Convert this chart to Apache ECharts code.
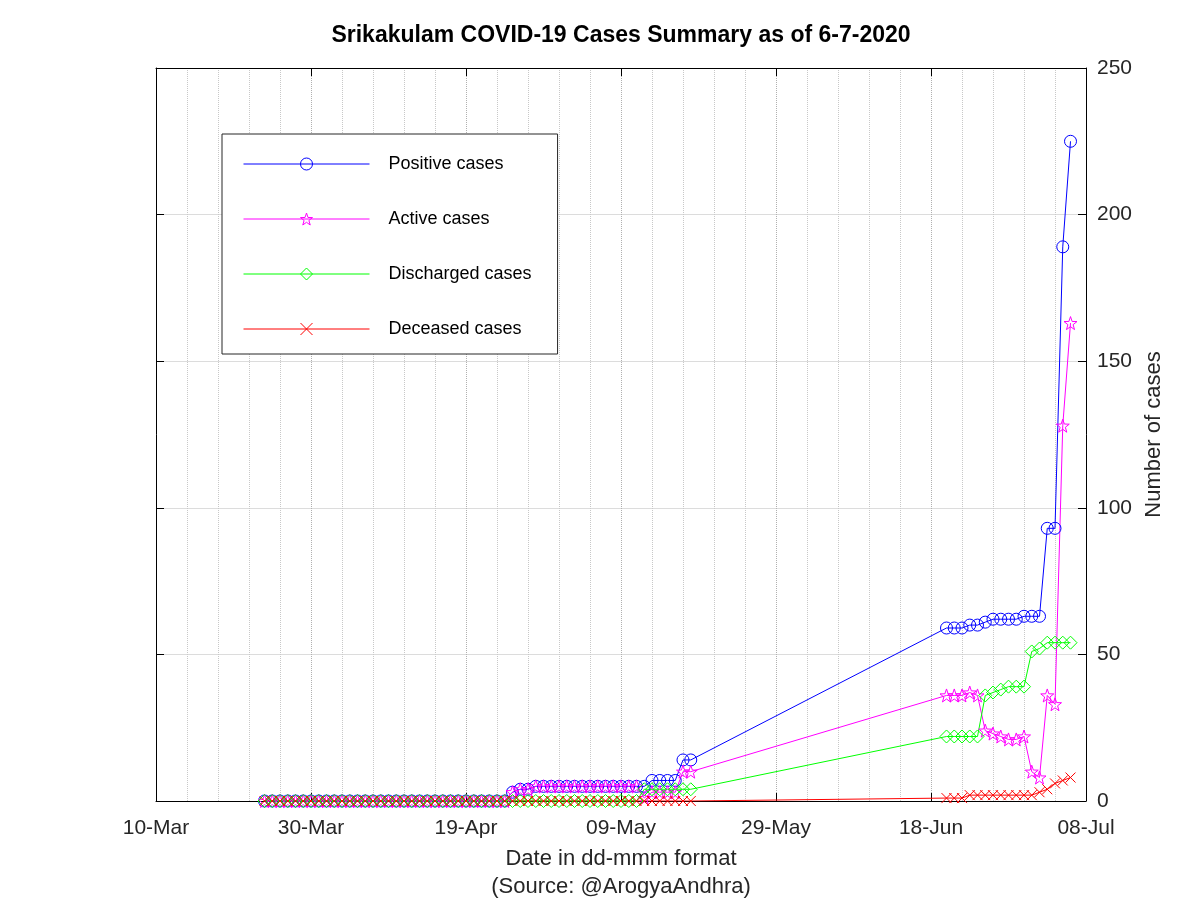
<!DOCTYPE html>
<html><head><meta charset="utf-8">
<script src="https://cdn.jsdelivr.net/npm/echarts@6/dist/echarts.min.js"></script>
<style>html,body{margin:0;padding:0;background:#fff}#c{width:1200px;height:900px}</style>
</head><body><div id="c"></div>
<script>
const titleText = 'Srikakulam COVID-19 Cases Summary as of 6-7-2020';
const dates = [
'2020-03-24','2020-03-25','2020-03-26','2020-03-27','2020-03-28','2020-03-29','2020-03-30','2020-03-31',
'2020-04-01','2020-04-02','2020-04-03','2020-04-04','2020-04-05','2020-04-06','2020-04-07','2020-04-08','2020-04-09','2020-04-10',
'2020-04-11','2020-04-12','2020-04-13','2020-04-14','2020-04-15','2020-04-16','2020-04-17','2020-04-18','2020-04-19','2020-04-20',
'2020-04-21','2020-04-22','2020-04-23','2020-04-24','2020-04-25','2020-04-26','2020-04-27','2020-04-28','2020-04-29','2020-04-30',
'2020-05-01','2020-05-02','2020-05-03','2020-05-04','2020-05-05','2020-05-06','2020-05-07','2020-05-08','2020-05-09','2020-05-10',
'2020-05-11','2020-05-12','2020-05-13','2020-05-14','2020-05-15','2020-05-16','2020-05-17','2020-05-18',
'2020-06-20','2020-06-21','2020-06-22','2020-06-23','2020-06-24','2020-06-25','2020-06-26','2020-06-27','2020-06-28','2020-06-29','2020-06-30',
'2020-07-01','2020-07-02','2020-07-03','2020-07-04','2020-07-05','2020-07-06'
];
const positive = [
0,0,0,0,0,0,0,0,
0,0,0,0,0,0,0,0,0,0,
0,0,0,0,0,0,0,0,0,0,
0,0,0,0,3,4,4,5,5,5,
5,5,5,5,5,5,5,5,5,5,
5,5,7,7,7,7,14,14,
59,59,59,60,60,61,62,62,62,62,63,
63,63,93,93,189,225
];
const active = [
0,0,0,0,0,0,0,0,
0,0,0,0,0,0,0,0,0,0,
0,0,0,0,0,0,0,0,0,0,
0,0,0,0,3,4,4,5,5,5,
5,5,5,5,5,5,5,5,5,5,
5,1,3,3,3,3,10,10,
36,36,36,37,36,24,23,22,21,21,22,
10,8,36,33,128,163
];
const discharged = [
0,0,0,0,0,0,0,0,
0,0,0,0,0,0,0,0,0,0,
0,0,0,0,0,0,0,0,0,0,
0,0,0,0,0,0,0,0,0,0,
0,0,0,0,0,0,0,0,0,0,
0,4,4,4,4,4,4,4,
22,22,22,22,22,36,37,38,39,39,39,
51,52,54,54,54,54
];
const deceased = [
0,0,0,0,0,0,0,0,
0,0,0,0,0,0,0,0,0,0,
0,0,0,0,0,0,0,0,0,0,
0,0,0,0,0,0,0,0,0,0,
0,0,0,0,0,0,0,0,0,0,
0,0,0,0,0,0,0,0,
1,1,1,2,2,2,2,2,2,2,2,
2,3,4,6,7,8
];
const seriesNames = ['Positive cases','Active cases','Discharged cases','Deceased cases'];
const seriesColors = ['#0000ff','#ff00ff','#00ff00','#ff0000'];
const xStartDate = '2020-03-10';
const xSpanDays = 120;
const xTickDays = 20;
const yMax = 250, yTick = 50;
const xAxisTitle = 'Date in dd-mmm format\n(Source: @ArogyaAndhra)';
const yAxisTitle = 'Number of cases';

const DAY = 86400000;
const base = Date.parse(xStartDate + 'T00:00:00Z');
const MON = ['Jan','Feb','Mar','Apr','May','Jun','Jul','Aug','Sep','Oct','Nov','Dec'];
const dayIdx = dates.map(d => Math.round((Date.parse(d + 'T00:00:00Z') - base) / DAY));
function fmt(v){ const d = new Date(base + v*DAY); const dd = String(d.getUTCDate()).padStart(2,'0'); return dd + '-' + MON[d.getUTCMonth()]; }

const starPath = 'path://M10,0L12.35,6.76L19.51,6.91L13.8,11.24L15.88,18.09L10,14L4.12,18.09L6.2,11.24L0.49,6.91L7.65,6.76Z';
const crossPath = 'path://M0,0L10,10M0,10L10,0';
const symbols = ['circle', starPath, 'diamond', crossPath];
const sizes = [12, 13, 13, 10];
const values = [positive, active, discharged, deceased];

const FONT = 'Liberation Sans';
const chart = echarts.init(document.getElementById('c'));
const axisCommon = { lineStyle: { color: '#000', width: 1 } };
chart.setOption({
  animation: false,
  backgroundColor: '#fff',
  textStyle: { fontFamily: FONT },
  title: { text: titleText, left: 621, top: 24, textAlign: 'center', padding: 0,
    textStyle: { fontFamily: FONT, fontWeight: 'bold', fontSize: 23, color: '#000' } },
  grid: { left: 156, right: 114, top: 68, bottom: 99, containLabel: false, outerBoundsMode: 'none' },
  legend: {
    orient: 'vertical', left: 222, top: 134,
    padding: [21, 26, 16, 21],
    itemWidth: 126, itemHeight: 15, itemGap: 37,
    borderColor: '#262626', borderWidth: 1, backgroundColor: '#fff',
    textStyle: { fontFamily: FONT, fontSize: 18, color: '#000', padding: [0,0,0,14] },
    itemStyle: { color: 'transparent', borderWidth: 1 },
    lineStyle: { width: 1 },
    data: seriesNames
  },
  xAxis: [{
    type: 'value', min: 0, max: xSpanDays, interval: xTickDays, position: 'bottom',
    axisLine: { show: true, onZero: false, ...axisCommon },
    axisTick: { show: true, inside: true, length: 8, lineStyle: { color: '#000' } },
    axisLabel: { formatter: fmt, fontSize: 21, color: '#262626', margin: 17, fontFamily: FONT },
    splitLine: { show: true, lineStyle: { type: 'dotted', color: '#b0b0b0' } },
    minorTick: { show: false, splitNumber: 5 },
    minorSplitLine: { show: true, lineStyle: { type: 'dotted', color: '#c8c8c8' } },
    name: xAxisTitle, nameLocation: 'middle', nameGap: 44,
    nameTextStyle: { fontSize: 22, color: '#262626', lineHeight: 28, fontFamily: FONT }
  }, {
    type: 'value', min: 0, max: xSpanDays, interval: xTickDays, position: 'top',
    axisLine: { show: true, onZero: false, ...axisCommon },
    axisTick: { show: true, inside: true, length: 8, lineStyle: { color: '#000' } },
    axisLabel: { show: false }, splitLine: { show: false }
  }],
  yAxis: [{
    type: 'value', min: 0, max: yMax, interval: yTick, position: 'right',
    axisLine: { show: true, onZero: false, ...axisCommon },
    axisTick: { show: true, inside: true, length: 8, lineStyle: { color: '#000' } },
    axisLabel: { fontSize: 21, color: '#262626', margin: 11, fontFamily: FONT },
    splitLine: { show: true, lineStyle: { type: 'solid', color: '#dcdcdc' } },
    name: yAxisTitle, nameLocation: 'middle', nameGap: 55, nameRotate: 90,
    nameTextStyle: { fontSize: 22, color: '#262626', fontFamily: FONT }
  }, {
    type: 'value', min: 0, max: yMax, interval: yTick, position: 'left',
    axisLine: { show: true, onZero: false, ...axisCommon },
    axisTick: { show: true, inside: true, length: 8, lineStyle: { color: '#000' } },
    axisLabel: { show: false }, splitLine: { show: false }
  }],
  series: seriesNames.map((name, i) => ({
    name, type: 'line', xAxisIndex: 0, yAxisIndex: 0,
    data: dayIdx.map((d, k) => [d, values[i][k]]),
    symbol: symbols[i], symbolSize: sizes[i], showSymbol: true, showAllSymbol: true,
    lineStyle: { color: seriesColors[i], width: 1 },
    itemStyle: { color: 'transparent', borderColor: seriesColors[i], borderWidth: 1 },
    emphasis: { disabled: true }
  }))
});
</script></body></html>
